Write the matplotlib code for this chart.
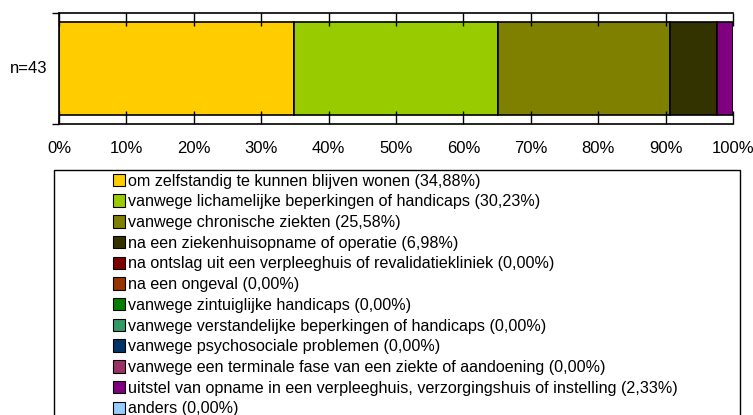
import matplotlib
matplotlib.use("Agg")
import matplotlib.pyplot as plt
from matplotlib.patches import Patch, Rectangle

plt.rcParams["font.family"] = ["Liberation Sans", "DejaVu Sans"]

categories = [
    "om zelfstandig te kunnen blijven wonen",
    "vanwege lichamelijke beperkingen of handicaps",
    "vanwege chronische ziekten",
    "na een ziekenhuisopname of operatie",
    "na ontslag uit een verpleeghuis of revalidatiekliniek",
    "na een ongeval",
    "vanwege zintuiglijke handicaps",
    "vanwege verstandelijke beperkingen of handicaps",
    "vanwege psychosociale problemen",
    "vanwege een terminale fase van een ziekte of aandoening",
    "uitstel van opname in een verpleeghuis, verzorgingshuis of instelling",
    "anders",
]
values = [34.88, 30.23, 25.58, 6.98, 0.00, 0.00, 0.00, 0.00, 0.00, 0.00, 2.33, 0.00]
colors = ["#FFCC00", "#99CC00", "#808000", "#333300", "#800000", "#993300",
          "#008000", "#339966", "#003366", "#993366", "#800080", "#99CCFF"]
row_label = "n=43"
xticks = list(range(0, 101, 10))

fig = plt.figure(figsize=(7.53, 4.15), dpi=100)
ax = fig.add_axes([59 / 753, 1 - 124 / 415, 674 / 753, 111 / 415])

left = 0.0
for v, c in zip(values, colors):
    if v > 0:
        ax.barh(0, v, left=left, height=0.83, color=c, edgecolor="black", linewidth=1.2)
    left += v

ax.set_xlim(0, 100)
ax.set_ylim(-0.5, 0.5)
ax.set_xticks(xticks)
ax.set_xticklabels([f"{t}%" for t in xticks], fontsize=12)
ax.tick_params(axis="x", which="major", direction="in", length=9.5, width=1, pad=12.5,
               top=True, color="black")
# short outward stubs below the bottom axis
ax.set_xticks(xticks, minor=True)
ax.tick_params(axis="x", which="minor", direction="out", length=3.5, width=1,
               top=False, bottom=True)
ax.set_yticks([-0.5, 0.5])
ax.set_yticklabels([])
ax.tick_params(axis="y", direction="out", length=5, width=1)
ax.text(-1.7, 0, row_label, ha="right", va="center", fontsize=12)
for s in ax.spines.values():
    s.set_linewidth(1.2)
ax.spines["right"].set_visible(False)

handles = [Patch(facecolor=c, edgecolor="black", linewidth=0.8) for c in colors]
labels = [f"{n} ({v:.2f}%)".replace(".", ",") for n, v in zip(categories, values)]
leg = fig.legend(handles, labels, loc="upper left", bbox_to_anchor=(113 / 753, 1 - 173.5 / 415),
                 frameon=False, fontsize=11.6, handlelength=0.75, handleheight=0.8,
                 handletextpad=0.2, labelspacing=0.355, borderpad=0, borderaxespad=0)

fig.patches.append(Rectangle((54 / 753, -0.05), 686 / 753, 1 - 170 / 415 + 0.05,
                             transform=fig.transFigure, fill=False, edgecolor="black",
                             linewidth=1.0))

fig.savefig("out.png", dpi=100)
